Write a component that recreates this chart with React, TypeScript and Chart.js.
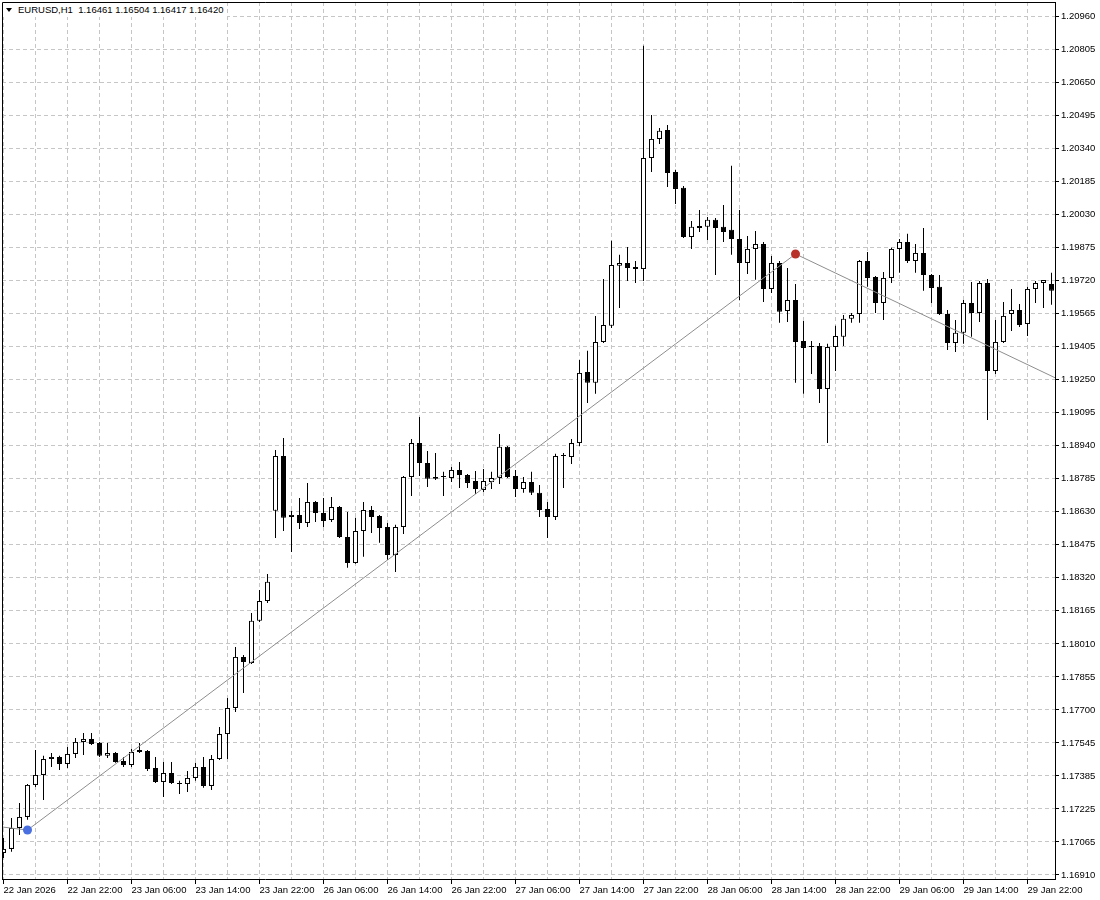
import React, { useEffect, useRef } from 'react';
import { Chart, registerables } from 'chart.js';

Chart.register(...registerables);

const FONT = "'Liberation Sans', Arial, sans-serif";

const timeLabels = [
  '22 Jan 2026', '22 Jan 22:00', '23 Jan 06:00', '23 Jan 14:00', '23 Jan 22:00',
  '26 Jan 06:00', '26 Jan 14:00', '26 Jan 22:00', '27 Jan 06:00', '27 Jan 14:00',
  '27 Jan 22:00', '28 Jan 06:00', '28 Jan 14:00', '28 Jan 22:00', '29 Jan 06:00',
  '29 Jan 14:00', '29 Jan 22:00',
];

const priceLabels = [
  '1.20960', '1.20805', '1.20650', '1.20495', '1.20340', '1.20185', '1.20030',
  '1.19875', '1.19720', '1.19565', '1.19405', '1.19250', '1.19095', '1.18940',
  '1.18785', '1.18630', '1.18475', '1.18320', '1.18165', '1.18010', '1.17855',
  '1.17700', '1.17545', '1.17385', '1.17225', '1.17065', '1.16910',
];

const openPrices = [
  1.17014, 1.17033, 1.17132, 1.17184, 1.17335, 1.17382, 1.17457, 1.17467, 1.17434, 1.17481,
  1.17538, 1.17552, 1.17533, 1.17472, 1.17486, 1.17448, 1.17429, 1.17500, 1.17495, 1.17415,
  1.17349, 1.17391, 1.17344, 1.17339, 1.17368, 1.17420, 1.17330, 1.17457, 1.17575, 1.17698,
  1.17939, 1.17910, 1.18109, 1.18203, 1.18628, 1.18887, 1.18599, 1.18609, 1.18571, 1.18670,
  1.18618, 1.18585, 1.18646, 1.18505, 1.18382, 1.18533, 1.18632, 1.18604, 1.18552, 1.18420,
  1.18552, 1.18788, 1.18948, 1.18854, 1.18788, 1.18788, 1.18783, 1.18821, 1.18797, 1.18769,
  1.18727, 1.18764, 1.18783, 1.18930, 1.18793, 1.18731, 1.18764, 1.18713, 1.18637, 1.18599,
  1.18887, 1.18882, 1.18948, 1.19283, 1.19232, 1.19425, 1.19501, 1.19784, 1.19798, 1.19779,
  1.19769, 1.20293, 1.20383, 1.20425, 1.20227, 1.20152, 1.19920, 1.19972, 1.19968, 1.20001,
  1.19968, 1.19954, 1.19911, 1.19798, 1.19864, 1.19887, 1.19675, 1.19798, 1.19571, 1.19623,
  1.19430, 1.19406, 1.19406, 1.19203, 1.19401, 1.19449, 1.19534, 1.19557, 1.19807, 1.19732,
  1.19609, 1.19727, 1.19864, 1.19897, 1.19807, 1.19845, 1.19741, 1.19685, 1.19557, 1.19420,
  1.19468, 1.19609, 1.19562, 1.19703, 1.19288, 1.19425, 1.19557, 1.19576, 1.19510, 1.19675,
  1.19703, 1.19699,
];

const highPrices = [
  1.17085, 1.17179, 1.17250, 1.17339, 1.17500, 1.17472, 1.17486, 1.17472, 1.17514, 1.17556,
  1.17580, 1.17580, 1.17538, 1.17533, 1.17490, 1.17467, 1.17505, 1.17533, 1.17500, 1.17467,
  1.17443, 1.17443, 1.17354, 1.17401, 1.17439, 1.17467, 1.17476, 1.17608, 1.17745, 1.17986,
  1.17948, 1.18146, 1.18255, 1.18330, 1.18915, 1.18972, 1.18628, 1.18689, 1.18760, 1.18675,
  1.18689, 1.18694, 1.18651, 1.18623, 1.18595, 1.18670, 1.18651, 1.18609, 1.18571, 1.18562,
  1.18793, 1.18967, 1.19071, 1.18911, 1.18901, 1.18812, 1.18835, 1.18859, 1.18802, 1.18816,
  1.18826, 1.18812, 1.18991, 1.18934, 1.18821, 1.18788, 1.18812, 1.18750, 1.18670, 1.18897,
  1.18901, 1.18967, 1.19340, 1.19383, 1.19548, 1.19722, 1.19902, 1.19836, 1.19873, 1.19807,
  1.20822, 1.20496, 1.20435, 1.20449, 1.20237, 1.20161, 1.19996, 1.20048, 1.20015, 1.20010,
  1.20071, 1.20256, 1.20048, 1.19925, 1.19949, 1.19897, 1.19831, 1.19807, 1.19774, 1.19699,
  1.19524, 1.19430, 1.19420, 1.19416, 1.19501, 1.19552, 1.19562, 1.19812, 1.19850, 1.19736,
  1.19755, 1.19869, 1.19911, 1.19935, 1.19887, 1.19963, 1.19746, 1.19741, 1.19576, 1.19529,
  1.19623, 1.19708, 1.19713, 1.19722, 1.19529, 1.19614, 1.19675, 1.19604, 1.19685, 1.19713,
  1.19708, 1.19751,
];

const lowPrices = [
  1.16990, 1.17019, 1.17099, 1.17170, 1.17325, 1.17264, 1.17420, 1.17405, 1.17415, 1.17462,
  1.17476, 1.17523, 1.17467, 1.17462, 1.17439, 1.17420, 1.17420, 1.17486, 1.17401, 1.17344,
  1.17278, 1.17339, 1.17292, 1.17302, 1.17354, 1.17321, 1.17311, 1.17453, 1.17457, 1.17679,
  1.17769, 1.17906, 1.18104, 1.18193, 1.18500, 1.18533, 1.18434, 1.18543, 1.18552, 1.18576,
  1.18552, 1.18576, 1.18500, 1.18359, 1.18378, 1.18411, 1.18524, 1.18477, 1.18396, 1.18340,
  1.18519, 1.18698, 1.18793, 1.18741, 1.18774, 1.18698, 1.18764, 1.18736, 1.18736, 1.18708,
  1.18717, 1.18731, 1.18755, 1.18783, 1.18694, 1.18713, 1.18703, 1.18599, 1.18500, 1.18585,
  1.18736, 1.18849, 1.18934, 1.19137, 1.19180, 1.19420, 1.19491, 1.19585, 1.19713, 1.19703,
  1.19713, 1.20227, 1.20359, 1.20156, 1.20076, 1.19916, 1.19864, 1.19944, 1.19906, 1.19741,
  1.19897, 1.19836, 1.19622, 1.19746, 1.19718, 1.19614, 1.19656, 1.19515, 1.19519, 1.19232,
  1.19180, 1.19274, 1.19137, 1.18948, 1.19288, 1.19406, 1.19515, 1.19515, 1.19685, 1.19562,
  1.19529, 1.19703, 1.19751, 1.19798, 1.19751, 1.19666, 1.19609, 1.19552, 1.19387, 1.19378,
  1.19416, 1.19449, 1.19519, 1.19057, 1.19274, 1.19420, 1.19477, 1.19496, 1.19453, 1.19609,
  1.19585, 1.19600,
];

const closePrices = [
  1.17033, 1.17132, 1.17184, 1.17335, 1.17382, 1.17457, 1.17467, 1.17434, 1.17481, 1.17538,
  1.17552, 1.17528, 1.17472, 1.17486, 1.17443, 1.17429, 1.17490, 1.17490, 1.17410, 1.17349,
  1.17391, 1.17344, 1.17339, 1.17368, 1.17420, 1.17330, 1.17457, 1.17575, 1.17698, 1.17939,
  1.17915, 1.18109, 1.18203, 1.18293, 1.18887, 1.18595, 1.18609, 1.18571, 1.18670, 1.18618,
  1.18580, 1.18646, 1.18505, 1.18382, 1.18533, 1.18632, 1.18599, 1.18547, 1.18420, 1.18552,
  1.18788, 1.18948, 1.18854, 1.18779, 1.18779, 1.18788, 1.18821, 1.18797, 1.18760, 1.18731,
  1.18769, 1.18783, 1.18930, 1.18788, 1.18731, 1.18764, 1.18713, 1.18632, 1.18599, 1.18887,
  1.18887, 1.18948, 1.19279, 1.19232, 1.19425, 1.19505, 1.19788, 1.19798, 1.19774, 1.19769,
  1.20293, 1.20383, 1.20421, 1.20222, 1.20147, 1.19920, 1.19968, 1.19963, 1.20001, 1.19963,
  1.19944, 1.19911, 1.19798, 1.19864, 1.19887, 1.19675, 1.19798, 1.19567, 1.19623, 1.19425,
  1.19397, 1.19401, 1.19203, 1.19401, 1.19453, 1.19534, 1.19552, 1.19807, 1.19727, 1.19609,
  1.19727, 1.19864, 1.19897, 1.19807, 1.19845, 1.19741, 1.19680, 1.19557, 1.19420, 1.19468,
  1.19609, 1.19562, 1.19703, 1.19288, 1.19425, 1.19548, 1.19576, 1.19505, 1.19675, 1.19703,
  1.19717, 1.19666,
];

const zigzagBars = [-20, 3, 99, 140];
const zigzagPrices = [1.17226, 1.17122, 1.1984, 1.19102];
const zigzagDotColors = ['rgba(0,0,0,0)', '#4a6fe0', '#b8322a', 'rgba(0,0,0,0)'];
const zigzagDotRadius = [0, 4.5, 4.5, 0];

const headerSymbol = 'EURUSD,H1';
const headerQuote = ['1.16461', '1.16504', '1.16417', '1.16420'];

const BARS_PER_LABEL = 8;
const BARS_PER_GRID = 4;

const framePlugin = {
  id: 'mtFrame',
  afterDraw(chart: any) {
    const { ctx, chartArea: a } = chart;
    ctx.save();
    ctx.strokeStyle = '#000';
    ctx.lineWidth = 1;
    ctx.beginPath();
    ctx.moveTo(a.left + 0.5, a.bottom + 0.5);
    ctx.lineTo(a.left + 0.5, a.top + 0.5);
    ctx.lineTo(a.right + 0.5, a.top + 0.5);
    ctx.stroke();
    ctx.restore();
  },
};

export default function App() {
  const canvasRef = useRef<HTMLCanvasElement | null>(null);

  useEffect(() => {
    const canvas = canvasRef.current;
    if (!canvas) return;

    const idx = openPrices.map((_, i) => i);
    const n = priceLabels.length;
    const pTop = parseFloat(priceLabels[0]);
    const pBottom = parseFloat(priceLabels[n - 1]);
    const gridCount = (timeLabels.length - 1) * (BARS_PER_LABEL / BARS_PER_GRID);
    const xTickValues: number[] = [];
    for (let k = 0; k <= gridCount; k++) xTickValues.push(k * BARS_PER_GRID);

    const gridColor = '#c6c6c6';
    const font = { family: FONT, size: 9.5 };

    const chart = new Chart(canvas, {
      type: 'bar',
      data: {
        datasets: [
          {
            type: 'line',
            label: 'ZigZag',
            data: zigzagBars.map((b, i) => ({ x: b, y: zigzagPrices[i] })),
            borderColor: '#8e8e8e',
            borderWidth: 1,
            tension: 0,
            pointRadius: zigzagDotRadius,
            pointBackgroundColor: zigzagDotColors,
            pointBorderWidth: 0,
            pointBorderColor: 'rgba(0,0,0,0)',
            order: 0,
          } as any,
          {
            label: 'Body',
            data: idx.map((i) => ({ x: i, y: [openPrices[i], closePrices[i]] })),
            backgroundColor: idx.map((i) => (closePrices[i] > openPrices[i] ? '#ffffff' : '#000000')),
            borderColor: '#000000',
            borderWidth: 1,
            borderSkipped: false,
            maxBarThickness: 5,
            minBarLength: 1,
            inflateAmount: 0,
            grouped: false,
            order: 1,
          } as any,
          {
            label: 'Wick',
            data: idx.map((i) => ({ x: i, y: [lowPrices[i], highPrices[i]] })),
            backgroundColor: '#000000',
            borderWidth: 0,
            maxBarThickness: 1,
            inflateAmount: 0,
            grouped: false,
            order: 2,
          } as any,
        ],
      },
      options: {
        responsive: false,
        animation: false,
        devicePixelRatio: 1,
        layout: { padding: { left: 2, top: 2, right: 0, bottom: 0 } },
        plugins: {
          legend: { display: false },
          tooltip: { enabled: false },
        },
        scales: {
          x: {
            type: 'linear',
            offset: false,
            min: -0.1875,
            max: 131.4375,
            afterBuildTicks: (scale: any) => {
              scale.ticks = xTickValues.map((v) => ({ value: v }));
            },
            afterFit: (scale: any) => {
              scale.height = 21;
              scale.paddingLeft = 0;
              scale.paddingRight = 0;
              scale.paddingTop = 0;
              scale.paddingBottom = 0;
            },
            ticks: {
              autoSkip: false,
              maxRotation: 0,
              minRotation: 0,
              align: 'start',
              padding: 1,
              color: '#000',
              font,
              callback: (v: any) => {
                const val = Math.round(Number(v));
                return val % BARS_PER_LABEL === 0 ? timeLabels[val / BARS_PER_LABEL] ?? '' : '';
              },
            },
            grid: {
              offset: false,
              color: gridColor,
              lineWidth: 1,
              tickLength: 5,
              tickWidth: 1,
              tickColor: (ctx: any) =>
                ctx.tick && Math.round(ctx.tick.value) % BARS_PER_LABEL === 0 ? '#000' : 'rgba(0,0,0,0)',
            },
            border: { display: true, color: '#000', width: 1, dash: [4, 3] },
          },
          y: {
            type: 'linear',
            position: 'right',
            beginAtZero: false,
            min: 1.16891,
            max: 1.21029,
            afterBuildTicks: (scale: any) => {
              scale.ticks = priceLabels.map((_, i) => ({
                value: pBottom + ((pTop - pBottom) * i) / (n - 1),
              }));
            },
            afterFit: (scale: any) => {
              scale.width = 45;
              scale.paddingLeft = 0;
              scale.paddingRight = 0;
              scale.paddingTop = 0;
              scale.paddingBottom = 0;
            },
            ticks: {
              autoSkip: false,
              padding: 2,
              color: '#000',
              font,
              callback: (_v: any, i: number) => priceLabels[n - 1 - i],
            },
            grid: {
              color: gridColor,
              lineWidth: 1,
              tickLength: 4,
              tickWidth: 1,
              tickColor: '#000',
            },
            border: { display: true, color: '#000', width: 1, dash: [4, 3] },
          },
        },
      } as any,
      plugins: [framePlugin],
    });

    return () => {
      chart.destroy();
    };
  }, []);

  return (
    <div
      style={{
        position: 'fixed',
        left: 0,
        top: 0,
        width: 1100,
        height: 900,
        background: '#ffffff',
        overflow: 'hidden',
      }}
    >
      <canvas ref={canvasRef} width={1100} height={900} style={{ display: 'block', width: 1100, height: 900 }} />
      <div
        style={{
          position: 'absolute',
          left: 3,
          top: 3,
          height: 14,
          paddingRight: 4,
          background: '#ffffff',
          display: 'flex',
          alignItems: 'center',
          fontFamily: FONT,
          fontSize: 9.5,
          color: '#000',
          whiteSpace: 'pre',
          lineHeight: '14px',
        }}
      >
        <span
          style={{
            display: 'inline-block',
            width: 0,
            height: 0,
            marginLeft: 3,
            marginRight: 6,
            borderLeft: '3px solid transparent',
            borderRight: '3px solid transparent',
            borderTop: '4px solid #000',
          }}
        />
        <span>{headerSymbol + '  ' + headerQuote.join(' ')}</span>
      </div>
    </div>
  );
}
